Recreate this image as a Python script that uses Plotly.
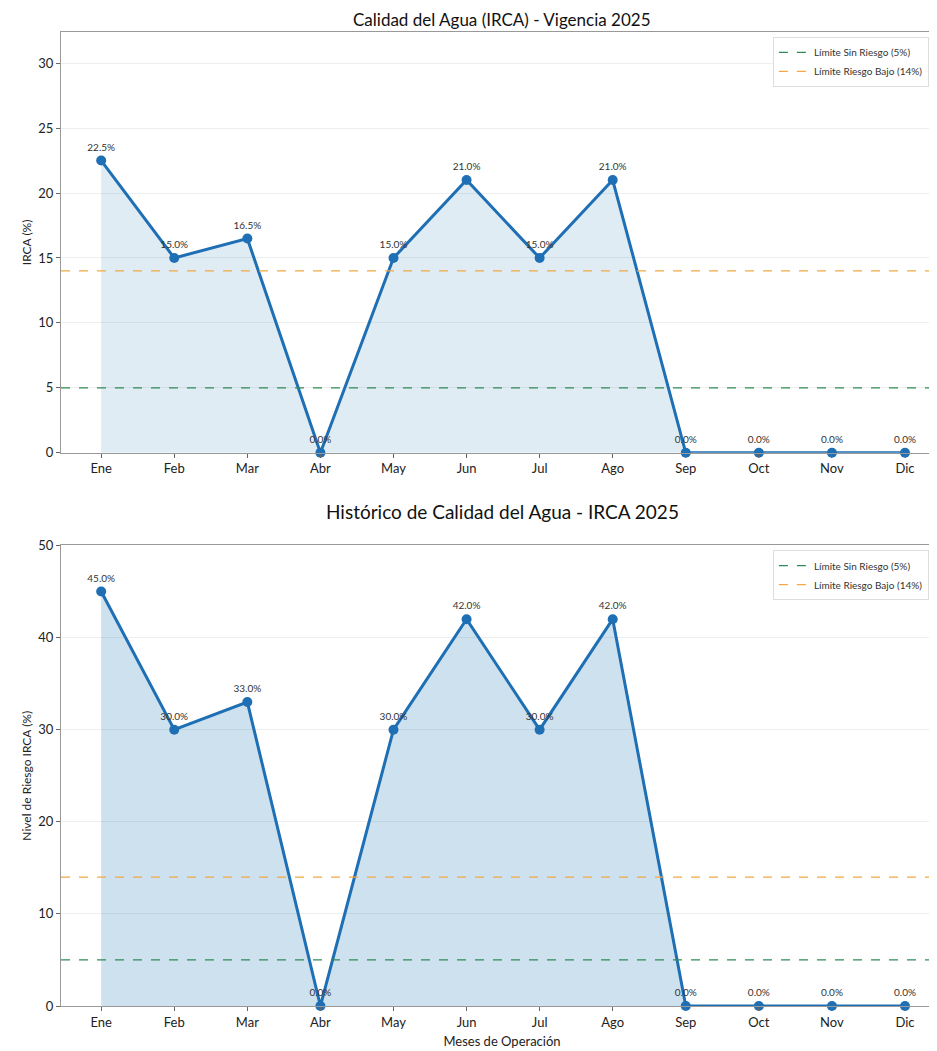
import plotly.graph_objects as go
from plotly.subplots import make_subplots

meses = ["Ene", "Feb", "Mar", "Abr", "May", "Jun", "Jul", "Ago", "Sep", "Oct", "Nov", "Dic"]
irca_vigencia = [22.5, 15.0, 16.5, 0.0, 15.0, 21.0, 15.0, 21.0, 0.0, 0.0, 0.0, 0.0]
irca_historico = [45.0, 30.0, 33.0, 0.0, 30.0, 42.0, 30.0, 42.0, 0.0, 0.0, 0.0, 0.0]
limite_sin_riesgo = 5
limite_riesgo_bajo = 14

FONT = "Lato"
BLUE = "#1f6fb4"
XR = [-0.55, 11.52]

fig = make_subplots(rows=2, cols=1, vertical_spacing=0.0)

x = list(range(len(meses)))

def add_panel(row, vals, fillcol, legend):
    fig.add_trace(go.Scatter(x=x, y=vals, mode="lines+markers+text",
                             line=dict(color=BLUE, width=3),
                             marker=dict(size=10, color=BLUE),
                             fill="tozeroy", fillcolor=fillcol,
                             text=[f"{v:.1f}%" for v in vals],
                             textposition="top center",
                             textfont=dict(size=10, color="#333", family=FONT),
                             showlegend=False, cliponaxis=False),
                  row=row, col=1)
    fig.add_trace(go.Scatter(x=XR, y=[limite_sin_riesgo] * 2, mode="lines",
                             line=dict(color="#2e8b57", width=1.3, dash="dash"),
                             name="Límite Sin Riesgo (5%)", legend=legend), row=row, col=1)
    fig.add_trace(go.Scatter(x=XR, y=[limite_riesgo_bajo] * 2, mode="lines",
                             line=dict(color="#f4a742", width=1.3, dash="dash"),
                             name="Límite Riesgo Bajo (14%)", legend=legend), row=row, col=1)

add_panel(1, irca_vigencia, "rgba(31,119,180,0.14)", "legend")
add_panel(2, irca_historico, "rgba(31,119,180,0.22)", "legend2")

axis_common = dict(showline=True, linecolor="#999", linewidth=1, mirror=True,
                   ticks="outside", ticklen=4, tickcolor="#666",
                   tickfont=dict(size=13, color="#222", family=FONT))

fig.update_xaxes(range=XR, tickmode="array", tickvals=x, ticktext=meses,
                 showgrid=False, zeroline=False, **axis_common)
fig.update_yaxes(showgrid=True, gridcolor="#eeeeee", zeroline=False, **axis_common)

fig.update_yaxes(range=[0, 32.4], tickvals=[0, 5, 10, 15, 20, 25, 30], row=1, col=1,
                 title=dict(text="IRCA (%)", font=dict(size=12, family=FONT, color="#222"), standoff=4))
fig.update_yaxes(range=[0, 50], tickvals=[0, 10, 20, 30, 40, 50], row=2, col=1,
                 title=dict(text="Nivel de Riesgo IRCA (%)", font=dict(size=12, family=FONT, color="#222"), standoff=4))
fig.update_xaxes(row=2, col=1, title=dict(text="Meses de Operación", font=dict(size=13, family=FONT, color="#222"), standoff=8))

fig.update_layout(
    width=937, height=1051,
    margin=dict(l=53, r=2, t=24, b=53),
    plot_bgcolor="white", paper_bgcolor="white",
    font=dict(family=FONT, color="#222"),
    yaxis=dict(domain=[0.568, 1.0]),
    yaxis2=dict(domain=[0.0, 0.4728]),
    legend=dict(x=0.984, y=0.995, xref="paper", yref="paper", xanchor="right", yanchor="top",
                bgcolor="rgba(255,255,255,0.9)", bordercolor="#ddd", borderwidth=1,
                font=dict(size=10, family=FONT, color="#333")),
    legend2=dict(x=0.984, y=0.468, xref="paper", yref="paper", xanchor="right", yanchor="top",
                 bgcolor="rgba(255,255,255,0.9)", bordercolor="#ddd", borderwidth=1,
                 font=dict(size=10, family=FONT, color="#333")),
    annotations=[
        dict(text="Calidad del Agua (IRCA) - Vigencia 2025", x=0.5, y=1.0, xref="paper", yref="paper",
             xanchor="center", yanchor="bottom", yshift=0, showarrow=False,
             font=dict(size=17, family=FONT, color="#111")),
        dict(text="Histórico de Calidad del Agua - IRCA 2025", x=0.5, y=0.4728, xref="paper", yref="paper",
             xanchor="center", yanchor="bottom", yshift=20, showarrow=False,
             font=dict(size=19, family=FONT, color="#111")),
    ],
)

fig.write_html("out.html")
